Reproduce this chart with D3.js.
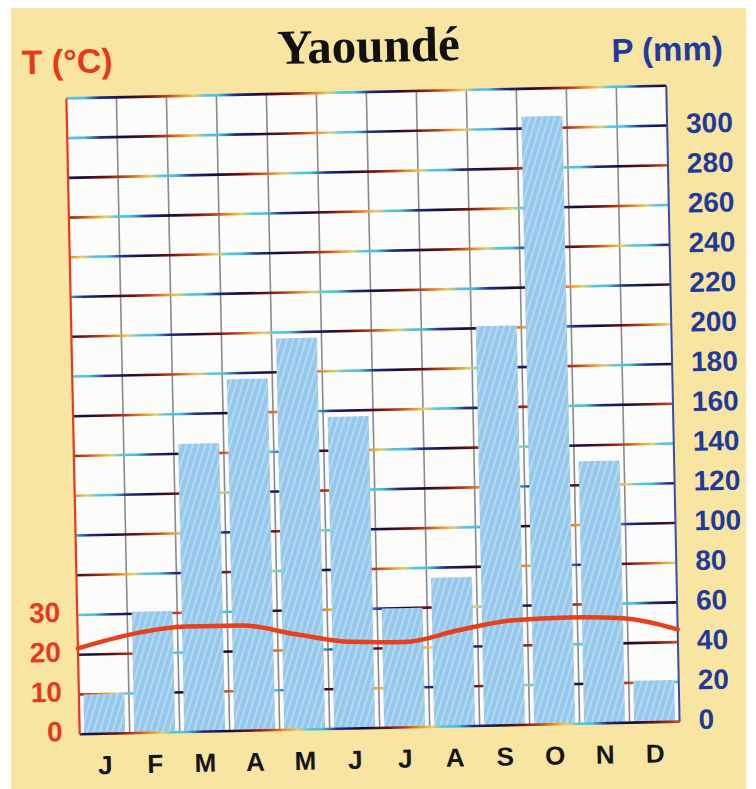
<!DOCTYPE html>
<html>
<head>
<meta charset="utf-8">
<script src="https://cdn.jsdelivr.net/npm/d3@7/dist/d3.min.js"></script>
<style>
  html, body { margin: 0; padding: 0; background: #ffffff; }
  svg { display: block; }
</style>
</head>
<body>
<script>
// ---- data ----
const monthLabels = ["J","F","M","A","M","J","J","A","S","O","N","D"];
const precipitation = [20, 61, 145, 177, 197, 157, 60, 75, 201, 306, 132, 21]; // mm
const temperature = [21.6, 24.9, 26.5, 26.5, 24.0, 21.8, 21.5, 24.2, 26.4, 26.8, 26.3, 23.2]; // °C
const precipTicks = [0, 20, 40, 60, 80, 100, 120, 140, 160, 180, 200, 220, 240, 260, 280, 300];
const tempTicks = [0, 10, 20, 30];
const gridValues = [20, 40, 60, 80, 100, 120, 140, 160, 180, 200, 220, 240, 260, 280, 300];
const titleText = "Yaoundé";

// ---- layout ----
const W = 756, H = 789;
const pL = 73, pR = 673, pT = 92, pB = 728;
const red = "#e8381c", blue = "#1f3a9c";

const svg = d3.select("body").append("svg").attr("width", W).attr("height", H);
const defs = svg.append("defs");

// bar hatch pattern
const pat = defs.append("pattern").attr("id", "hatch").attr("patternUnits", "userSpaceOnUse")
  .attr("width", 6).attr("height", 6).attr("patternTransform", "rotate(18)");
pat.append("rect").attr("width", 6).attr("height", 6).attr("fill", "#96c8ec");
pat.append("rect").attr("x", 0).attr("width", 2).attr("height", 6).attr("fill", "#b4d9f2");

// rainbow gridline gradients (printing artefact look)
const stops = [
  [0, "#46c0e0"], [0.12, "#1e2a8a"], [0.3, "#180a38"], [0.48, "#6a1212"],
  [0.62, "#c4401a"], [0.74, "#ec9a2c"], [0.82, "#e0d070"], [0.9, "#58c4dc"], [1, "#46c0e0"]
];
const phases = [0, 45, 90, 20, 70, 110];
phases.forEach((ph, i) => {
  const g = defs.append("linearGradient").attr("id", "gl" + i)
    .attr("gradientUnits", "userSpaceOnUse").attr("x1", ph).attr("x2", ph + 135)
    .attr("y1", 0).attr("y2", 0).attr("spreadMethod", "repeat");
  stops.forEach(s => g.append("stop").attr("offset", s[0]).attr("stop-color", s[1]));
});

// page background
svg.append("rect").attr("x", 11).attr("y", 8).attr("width", 735).attr("height", 781).attr("fill", "#f8e5a1");

const root = svg.append("g").attr("transform", "rotate(-1.2, 373, 410)");

// scales
const x = d3.scaleBand().domain(d3.range(12)).range([pL, pR]).paddingInner(0.18).paddingOuter(0.09);
const xEdge = d3.scaleBand().domain(d3.range(12)).range([pL, pR]).padding(0);
const xT = d3.scalePoint().domain(d3.range(12)).range([pL, pR]);
const yP = d3.scaleLinear().domain([0, 320]).range([pB, pT]);
const yT = d3.scaleLinear().domain([0, 160]).range([pB, pT]);

// plot background
root.append("rect").attr("x", pL).attr("y", pT).attr("width", pR - pL).attr("height", pB - pT).attr("fill", "#fcfcfb");

// vertical month separators
root.append("g").selectAll("line").data(d3.range(1, 12)).join("line")
  .attr("x1", d => xEdge(d)).attr("x2", d => xEdge(d))
  .attr("y1", pT).attr("y2", pB)
  .attr("stroke", "#8c8890").attr("stroke-width", 1.6);

// horizontal gridlines
root.append("g").selectAll("line").data(gridValues).join("line")
  .attr("x1", pL).attr("x2", pR)
  .attr("y1", d => yP(d)).attr("y2", d => yP(d))
  .attr("stroke", (d, i) => "url(#gl" + (i % phases.length) + ")").attr("stroke-width", 2.6);

// bars
root.append("g").selectAll("rect").data(precipitation).join("rect")
  .attr("x", (d, i) => x(i)).attr("width", x.bandwidth())
  .attr("y", d => yP(d)).attr("height", d => yP(0) - yP(d))
  .attr("fill", "url(#hatch)");

// borders
root.append("line").attr("x1", pL).attr("x2", pR).attr("y1", pT).attr("y2", pT)
  .attr("stroke", "url(#gl2)").attr("stroke-width", 2.6);
root.append("line").attr("x1", pL).attr("x2", pR).attr("y1", pB).attr("y2", pB)
  .attr("stroke", "url(#gl1)").attr("stroke-width", 2.6);
root.append("line").attr("x1", pL).attr("x2", pL).attr("y1", pT).attr("y2", pB)
  .attr("stroke", red).attr("stroke-width", 2.2);
root.append("line").attr("x1", pR).attr("x2", pR).attr("y1", pT).attr("y2", pB)
  .attr("stroke", "#3a4aa8").attr("stroke-width", 2);

// temperature curve
const line = d3.line().x((d, i) => xT(i)).y(d => yT(d)).curve(d3.curveMonotoneX);
root.append("path").datum(temperature).attr("d", line)
  .attr("fill", "none").attr("stroke", "#e6401c").attr("stroke-width", 4.5).attr("stroke-linecap", "round");

// right axis (P)
const axR = root.append("g").attr("transform", `translate(${pR + 19},0)`)
  .call(d3.axisRight(yP).tickValues(precipTicks).tickSize(0).tickPadding(0));
axR.select(".domain").remove();
axR.selectAll("text").attr("fill", blue).attr("font-family", "Liberation Sans, Arial, sans-serif")
  .attr("font-weight", "bold").attr("font-size", 28).attr("dy", "0.26em").attr("text-anchor", "start");

// left axis (T)
const axL = root.append("g").attr("transform", `translate(${pL - 17},0)`)
  .call(d3.axisLeft(yT).tickValues(tempTicks).tickSize(0).tickPadding(0));
axL.select(".domain").remove();
axL.selectAll("text").attr("fill", red).attr("font-family", "Liberation Sans, Arial, sans-serif")
  .attr("font-weight", "bold").attr("font-size", 28).attr("dy", "0.22em");

// bottom axis (months)
const axB = root.append("g").attr("transform", `translate(0,${pB})`)
  .call(d3.axisBottom(xEdge).tickSize(0).tickPadding(0).tickFormat(i => monthLabels[i]));
axB.select(".domain").remove();
axB.selectAll("text").attr("fill", "#151515").attr("font-family", "Liberation Sans, Arial, sans-serif")
  .attr("font-weight", "bold").attr("font-size", 26).attr("dy", "1.55em");

// titles
root.append("text").attr("x", 376).attr("y", 62).attr("text-anchor", "middle")
  .attr("font-family", "Liberation Serif, Times New Roman, serif").attr("font-weight", "bold")
  .attr("font-size", 49).attr("fill", "#111").text(titleText);
root.append("text").attr("x", 29).attr("y", 67)
  .attr("font-family", "Liberation Sans, Arial, sans-serif").attr("font-weight", "bold")
  .attr("font-size", 34).attr("fill", red).text("T (°C)");
root.append("text").attr("x", 619).attr("y", 67)
  .attr("font-family", "Liberation Sans, Arial, sans-serif").attr("font-weight", "bold")
  .attr("font-size", 33).attr("fill", blue).text("P (mm)");
</script>
</body>
</html>
